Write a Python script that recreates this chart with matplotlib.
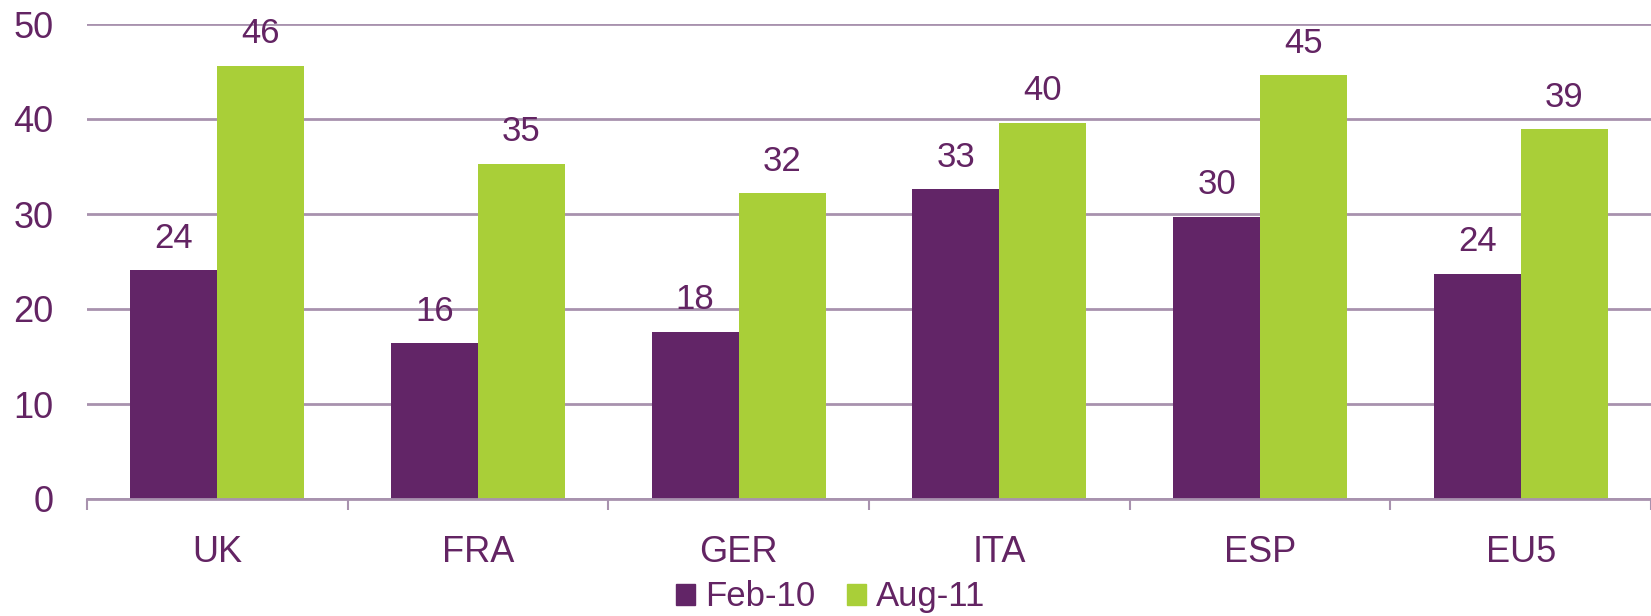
import matplotlib
matplotlib.use('Agg')
import matplotlib.pyplot as plt
import numpy as np
from matplotlib.patches import Patch

plt.rcParams['font.family'] = ['Liberation Sans', 'DejaVu Sans']

TXT = '#632463'
PURPLE = '#622567'
GREEN = '#A9CF38'
GRID = '#A892AE'

countries = ['UK', 'FRA', 'GER', 'ITA', 'ESP', 'EU5']
feb_10 = [24.1, 16.4, 17.6, 32.6, 29.7, 23.7]
aug_11 = [45.6, 35.3, 32.2, 39.6, 44.6, 38.9]
series_names = ['Feb-10', 'Aug-11']

fig = plt.figure(figsize=(16.51, 6.16), dpi=100)
ax = fig.add_axes([87/1651, 1 - 499/616, 1 - 87/1651, 475/616])

x = np.arange(len(countries))
w = 1/3
b1 = ax.bar(x - w/2, feb_10, w, color=PURPLE, zorder=2)
b2 = ax.bar(x + w/2, aug_11, w, color=GREEN, zorder=2)

for bars, vals in ((b1, feb_10), (b2, aug_11)):
    for r, v in zip(bars, vals):
        ax.annotate('%.0f' % v, (r.get_x() + r.get_width()/2, v),
                    xytext=(0, 23), textcoords='offset points',
                    ha='center', va='center', fontsize=25, color=TXT)

ax.set_xlim(-0.5, len(countries) - 0.5)
ax.set_ylim(0, 50)
ax.set_yticks(range(0, 51, 10))
ax.yaxis.grid(True, color=GRID, linewidth=2)
ax.set_axisbelow(True)
ax.tick_params(axis='y', length=0, pad=24, labelsize=26, labelcolor=TXT)

# category boundaries as tick marks, labels in between
ax.set_xticks(np.arange(-0.5, len(countries), 1))
ax.set_xticklabels([])
ax.set_xticks(x, minor=True)
ax.set_xticklabels(countries, minor=True)
ax.tick_params(axis='x', which='major', length=8, width=1.5, color=GRID)
ax.tick_params(axis='x', which='minor', length=0, pad=26, labelsize=26, labelcolor=TXT)

for s in ('top', 'right', 'left'):
    ax.spines[s].set_visible(False)
ax.spines['bottom'].set_color(GRID)
ax.spines['bottom'].set_linewidth(2)

handles = [Patch(color=PURPLE), Patch(color=GREEN)]
fig.legend(handles, series_names, loc='center', bbox_to_anchor=(0.503, 0.031),
           ncol=2, frameon=False, fontsize=25, labelcolor=TXT,
           handlelength=0.55, handleheight=0.55, handletextpad=0.3,
           columnspacing=0.9, borderpad=0, borderaxespad=0)

fig.savefig('out.png', dpi=100)
